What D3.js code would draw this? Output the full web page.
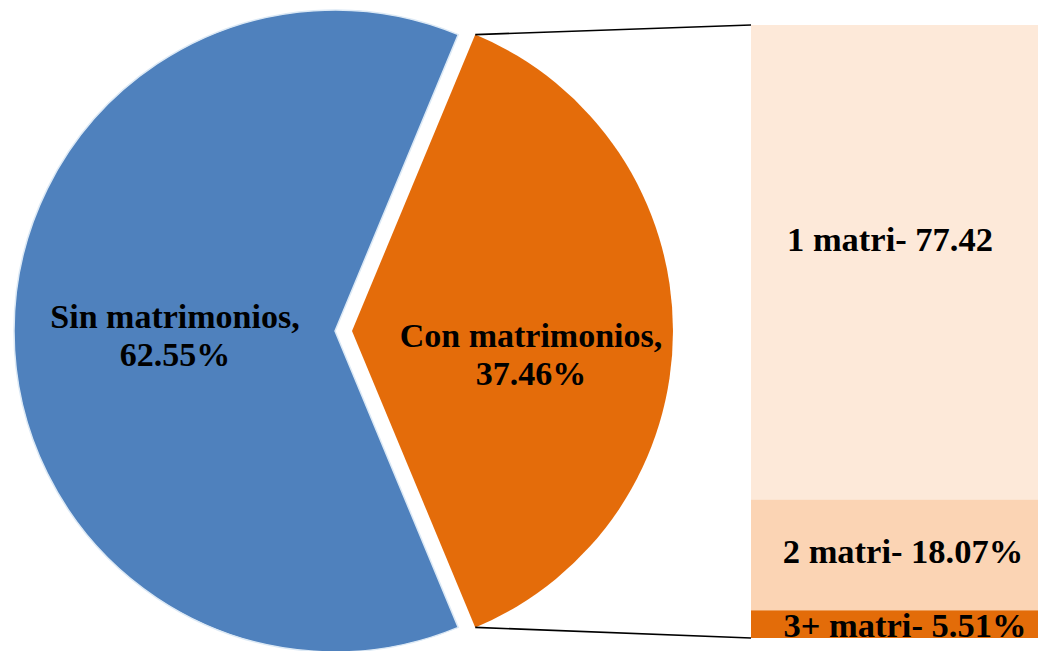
<!DOCTYPE html>
<html>
<head>
<meta charset="utf-8">
<script src="https://cdn.jsdelivr.net/npm/d3@7"></script>
<style>
  body { margin: 0; background: #fff; }
  text { font-family: "Liberation Serif", "DejaVu Serif", serif; font-weight: bold; fill: #000; }
</style>
</head>
<body>
<svg width="1038" height="651"></svg>
<script>
// pie data
var pieNames = ["Con matrimonios,", "Sin matrimonios,"];
var pieValues = [37.46, 62.55];
var pieLabels = ["37.46%", "62.55%"];
var pieColors = ["#E46C0A", "#4F81BD"];

// stacked bar data (top to bottom)
var barNames = ["1 matri", "2 matri", "3+ matri"];
var barValues = [77.42, 18.07, 4.51];
var barLabels = ["1 matri- 77.42", "2 matri- 18.07%", "3+ matri- 5.51%"];
var barColors = ["#FDE9D9", "#FBD4B4", "#E36C09"];

var svg = d3.select("svg");

// pie geometry
var cx = 335, cy = 331, r = 321, explode = 17;

// orange slice centered on the right side
var conAngle = pieValues[0] / d3.sum(pieValues) * 2 * Math.PI;
var pie = d3.pie().sort(null).value(function (d) { return d; })
    .startAngle(Math.PI / 2 - conAngle / 2)
    .endAngle(Math.PI / 2 - conAngle / 2 + 2 * Math.PI);
var arcs = pie(pieValues);
var arc = d3.arc().innerRadius(0).outerRadius(r);

var g = svg.append("g").attr("transform", "translate(" + cx + "," + cy + ")");

g.selectAll(".slice")
    .data(arcs)
    .enter().append("path")
    .attr("class", "slice")
    .attr("transform", function (d, i) {
        if (i !== 0) return null;
        var mid = (d.startAngle + d.endAngle) / 2;
        return "translate(" + (explode * Math.sin(mid)) + "," + (-explode * Math.cos(mid)) + ")";
    })
    .attr("d", arc)
    .attr("fill", function (d, i) { return pieColors[i]; })
    .attr("stroke", function (d, i) { return i === 0 ? "none" : "#DCE9F5"; })
    .attr("stroke-width", 1.5);

// pie labels
var labelPos = [[531, 347], [175, 328]];
arcs.forEach(function (d, i) {
    var t = g.append("text")
        .attr("text-anchor", "middle")
        .attr("y", labelPos[i][1] - cy)
        .style("font-size", "34px");
    t.append("tspan").attr("x", labelPos[i][0] - cx).text(pieNames[i]);
    t.append("tspan").attr("x", labelPos[i][0] - cx).attr("dy", 38).text(pieLabels[i]);
});

// stacked bar
var barX = 751, barW = 287, barTop = 25, barBottom = 638;
var y = d3.scaleLinear().domain([0, d3.sum(barValues)]).range([barTop, barBottom]);
var cum = 0;
var segs = barValues.map(function (v, i) {
    var s = { i: i, y0: cum, y1: cum + v };
    cum += v;
    return s;
});

svg.selectAll(".seg")
    .data(segs)
    .enter().append("rect")
    .attr("class", "seg")
    .attr("x", barX)
    .attr("y", function (d) { return y(d.y0); })
    .attr("width", barW)
    .attr("height", function (d) { return y(d.y1) - y(d.y0); })
    .attr("fill", function (d) { return barColors[d.i]; });

// connector lines from the exploded slice to the bar
var con = arcs[0];
var conMid = (con.startAngle + con.endAngle) / 2;
var ox = cx + explode * Math.sin(conMid), oy = cy - explode * Math.cos(conMid);
var p1 = [ox + r * Math.sin(con.startAngle), oy - r * Math.cos(con.startAngle)];
var p2 = [ox + r * Math.sin(con.endAngle), oy - r * Math.cos(con.endAngle)];
svg.append("line")
    .attr("x1", p1[0]).attr("y1", p1[1])
    .attr("x2", barX).attr("y2", y(0))
    .attr("stroke", "#000").attr("stroke-width", 1.6);
svg.append("line")
    .attr("x1", p2[0]).attr("y1", p2[1])
    .attr("x2", barX).attr("y2", y(cum))
    .attr("stroke", "#000").attr("stroke-width", 1.6);

// bar labels
var barLabelPos = [[890, 251], [903, 563], [905, 637]];
svg.selectAll(".barlab")
    .data(barLabels)
    .enter().append("text")
    .attr("class", "barlab")
    .attr("text-anchor", "middle")
    .attr("x", function (d, i) { return barLabelPos[i][0]; })
    .attr("y", function (d, i) { return barLabelPos[i][1]; })
    .style("font-size", "34.5px")
    .text(function (d) { return d; });
</script>
</body>
</html>
